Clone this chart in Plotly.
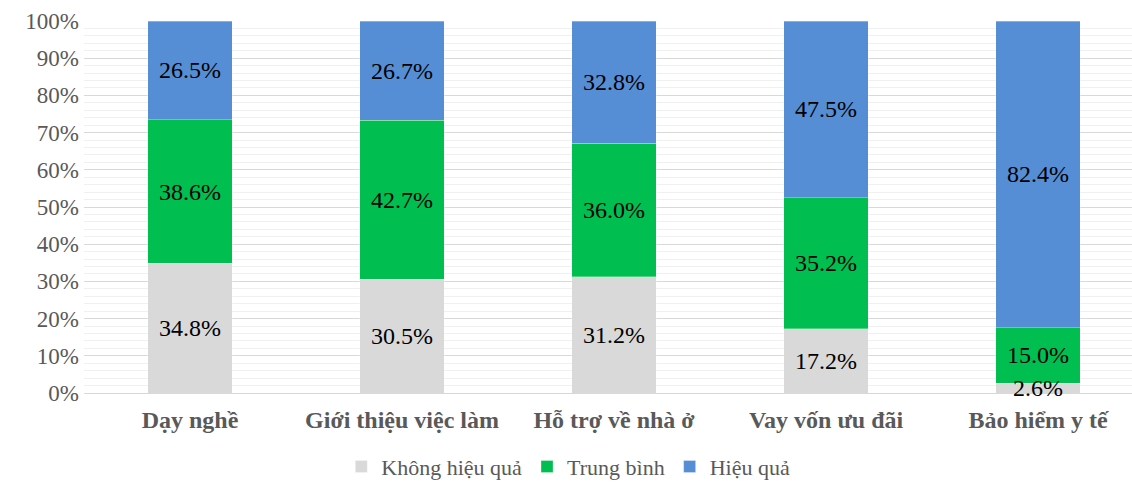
import plotly.graph_objects as go

categories = ["Dạy nghề", "Giới thiệu việc làm", "Hỗ trợ về nhà ở", "Vay vốn ưu đãi", "Bảo hiểm y tế"]
khong_hieu_qua = [34.8, 30.5, 31.2, 17.2, 2.6]
trung_binh = [38.6, 42.7, 36.0, 35.2, 15.0]
hieu_qua = [26.5, 26.7, 32.8, 47.5, 82.4]
tick_vals = [0, 10, 20, 30, 40, 50, 60, 70, 80, 90, 100]
tick_text = ["0%", "10%", "20%", "30%", "40%", "50%", "60%", "70%", "80%", "90%", "100%"]

series = [
    ("Không hiệu quả", khong_hieu_qua, "#D9D9D9"),
    ("Trung bình", trung_binh, "#00BF50"),
    ("Hiệu quả", hieu_qua, "#558ED5"),
]

FONT = "Liberation Serif"
fig = go.Figure()
for name, vals, color in series:
    fig.add_trace(go.Bar(
        x=categories, y=vals, name=name, marker_color=color,
        marker_line=dict(color="rgba(255,255,255,0.6)", width=0.5),
        width=0.4,
    ))

# data labels at segment centers (normalized to 100%)
annotations = []
for i, cat in enumerate(categories):
    total = khong_hieu_qua[i] + trung_binh[i] + hieu_qua[i]
    base = 0.0
    for name, vals, color in series:
        h = vals[i] / total * 100
        annotations.append(dict(
            x=cat, y=base + h / 2, xref="x", yref="y",
            text=f"{vals[i]:.1f}%", showarrow=False,
            font=dict(family=FONT, size=24, color="#000000"),
        ))
        base += h

fig.update_layout(
    barmode="stack", barnorm="percent",
    width=1132, height=484,
    margin=dict(l=84, r=0, t=21, b=91, autoexpand=False),
    paper_bgcolor="white", plot_bgcolor="white",
    font=dict(family=FONT, color="#595959", size=22),
    annotations=annotations,
    showlegend=True,
    legend=dict(
        orientation="h", xref="container", yref="paper",
        x=0.502, xanchor="center", y=-0.198, yanchor="middle",
        font=dict(family=FONT, size=22, color="#595959"),
        itemwidth=30, traceorder="normal",
    ),
    bargap=0.6,
)
fig.update_xaxes(
    range=[-0.5, 4.443], showgrid=False, zeroline=False, showline=False,
    tickfont=dict(family=FONT, size=24, color="#595959", weight="bold"),
    ticks="", ticklabelstandoff=10,
)
fig.update_yaxes(
    range=[0, 100], tickvals=tick_vals, ticktext=tick_text,
    showgrid=True, gridcolor="#D9D9D9", gridwidth=1,
    minor=dict(dtick=2, showgrid=True, gridcolor="#F0F0F0", gridwidth=1),
    zeroline=True, zerolinecolor="#D9D9D9", zerolinewidth=1,
    tickfont=dict(family=FONT, size=23, color="#595959"),
    ticks="", ticklabelstandoff=4,
)
fig.write_html("out.html")
